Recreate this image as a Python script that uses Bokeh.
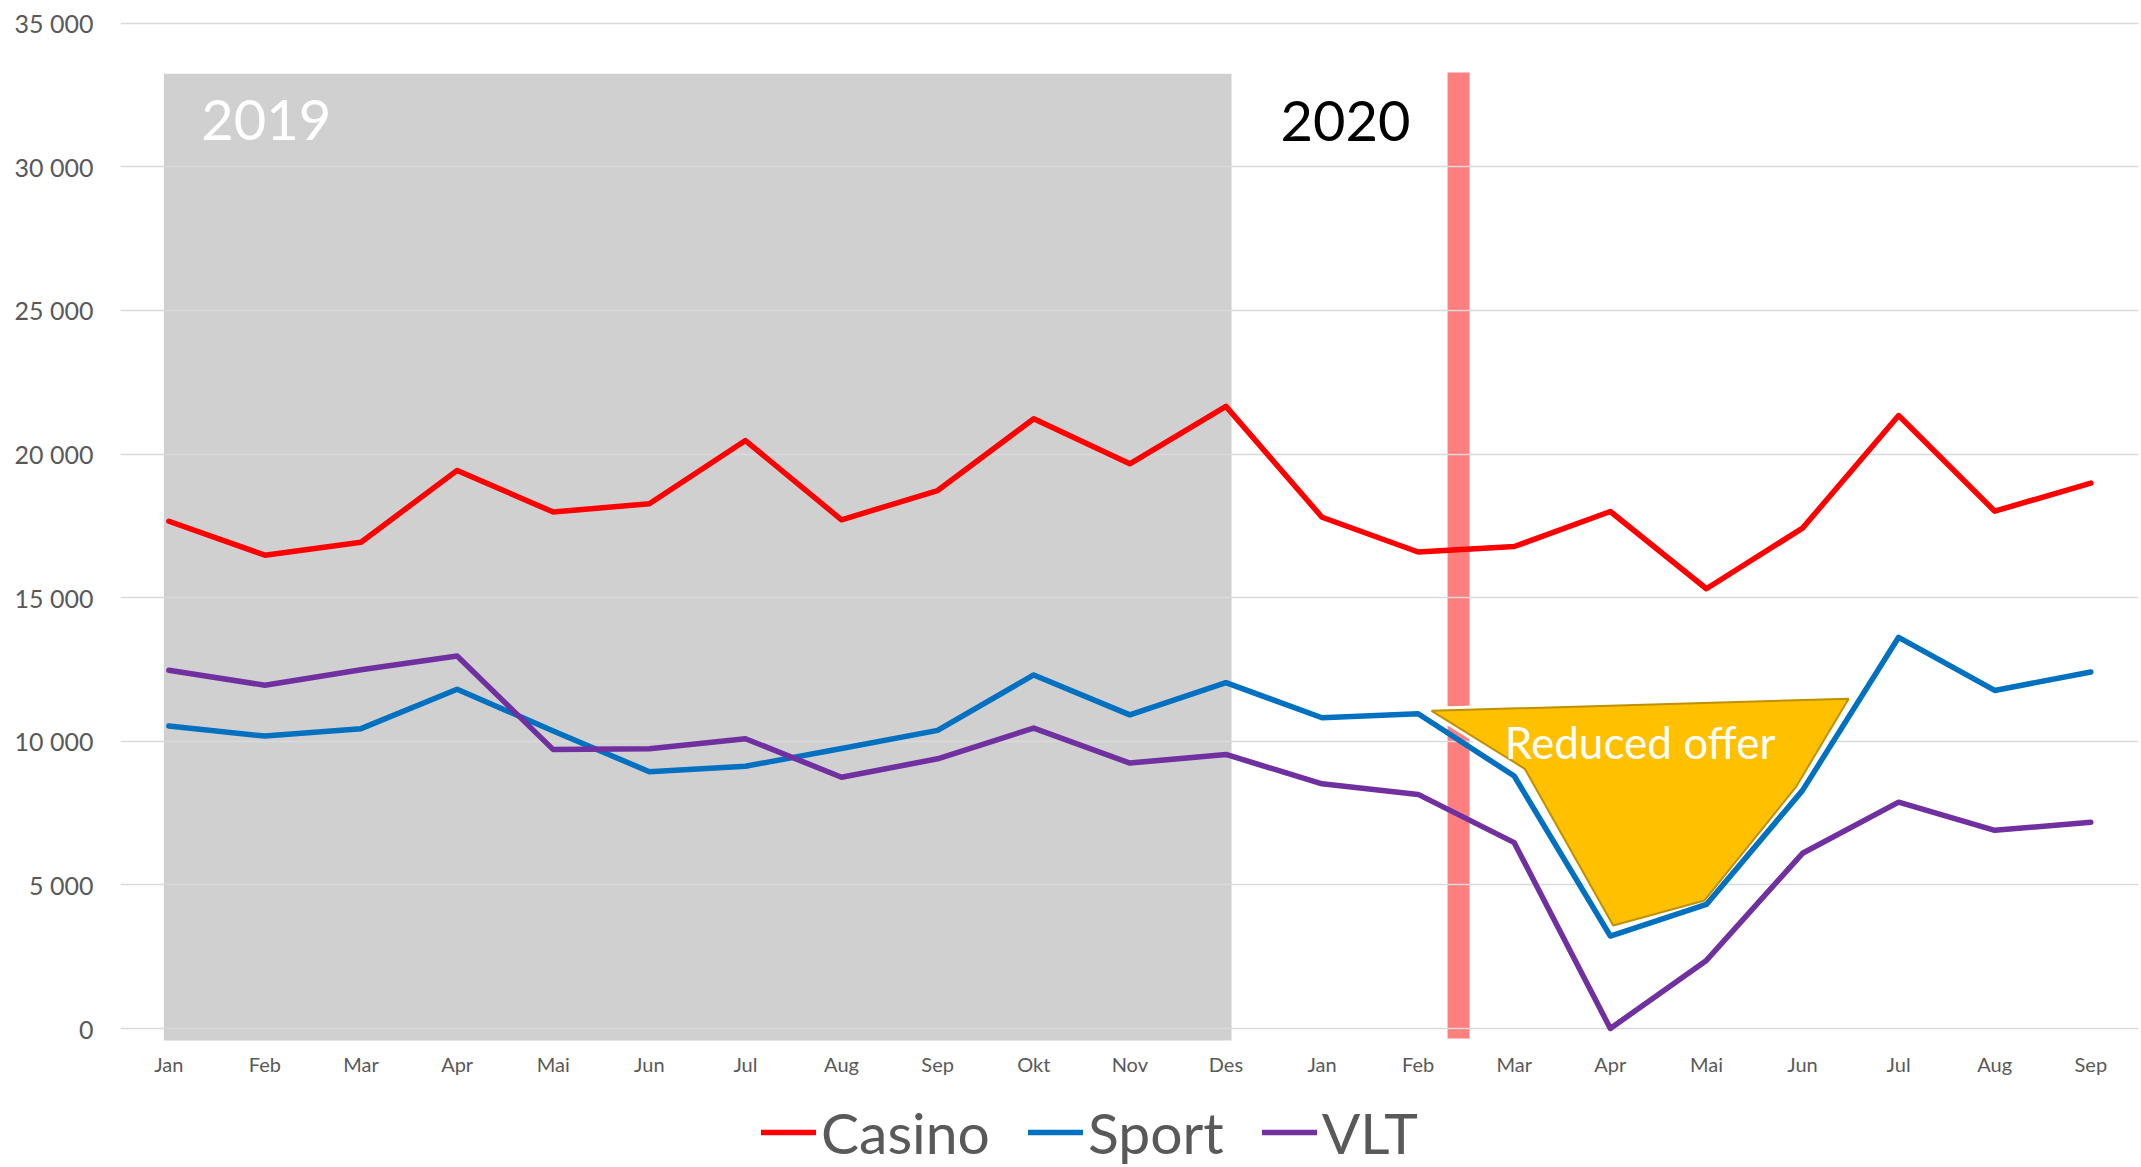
from bokeh.plotting import figure
from bokeh.layouts import column
from bokeh.models import Range1d, FixedTicker, Legend, LegendItem
from bokeh.core.properties import value
from bokeh.embed import file_html
from bokeh.resources import INLINE

# ---------------- data ----------------
months = ["Jan", "Feb", "Mar", "Apr", "Mai", "Jun", "Jul", "Aug", "Sep", "Okt", "Nov", "Des",
          "Jan", "Feb", "Mar", "Apr", "Mai", "Jun", "Jul", "Aug", "Sep"]
casino = [17660, 16480, 16930, 19430, 17980, 18270, 20470, 17710, 18730, 21230, 19660, 21660,
          17800, 16590, 16780, 18000, 15310, 17420, 21340, 18010, 18990]
sport = [10530, 10180, 10440, 11810, 10360, 8940, 9130, 9750, 10380, 12310, 10920, 12040,
         10820, 10960, 8790, 3220, 4320, 8290, 13620, 11770, 12410]
vlt = [12470, 11950, 12490, 12970, 9710, 9740, 10090, 8750, 9390, 10460, 9240, 9540,
       8520, 8150, 6470, 0, 2370, 6100, 7880, 6900, 7180]
y_ticks = [0, 5000, 10000, 15000, 20000, 25000, 30000, 35000]
series_names = ["Casino", "Sport", "VLT"]
series_colors = ["#FF0000", "#0070C0", "#7030A0"]

# annotation shapes (data units)
shade_2019 = dict(left=-0.052, right=11.058, bottom=-420, top=33240)
covid_bar = dict(left=13.306, right=13.535, bottom=-348, top=33287)
reduced_x = [13.14, 17.48, 16.93, 15.98, 15.03, 14.11]
reduced_y = [11060, 11480, 8402, 4457, 3587, 9040]
year_labels = ["2019", "2020"]
year_x = [0.337, 11.568]
year_y = [31615, 31591]
year_colors = ["#FFFFFF", "#000000"]
offer_label = ["Reduced offer"]
offer_x = [15.31]
offer_y = [9990]

FONT = "Lato"
GREY_TXT = "#595959"
LW = 5.5

x = list(range(len(months)))
series = [casino, sport, vlt]

p = figure(width=2141, height=1080,
           x_range=Range1d(-0.503, 20.496), y_range=Range1d(-557, 35338),
           output_backend="svg", toolbar_location=None,
           min_border_left=120, min_border_right=3, min_border_top=13, min_border_bottom=36)
p.outline_line_color = None
p.background_fill_color = "#FFFFFF"
p.border_fill_color = "#FFFFFF"

# background shapes (below grid)
p.quad(level="image", fill_color="#D0D0D0", line_color=None, **{k: [v] for k, v in shade_2019.items()})
p.quad(level="image", fill_color="#FF7F7F", line_color=None, **{k: [v] for k, v in covid_bar.items()})

# white glow of the callout, under the lines
p.patch(reduced_x, reduced_y, fill_alpha=0, line_color="#FFFFFF", line_width=8, line_join="round")

for ys, col in zip(series, series_colors):
    p.line(x, ys, line_color=col, line_width=LW, line_join="round", line_cap="round")

# callout
p.patch(reduced_x, reduced_y, fill_color="#FFC000", line_color="#BF9000", line_width=2)
p.text(offer_x, offer_y, text=offer_label, text_font=value(FONT), text_font_size="44px",
       text_color="#FFFFFF", text_align="center", text_baseline="alphabetic")

# year labels
p.text(year_x, year_y, text=year_labels, text_font=value(FONT), text_font_size="56px",
       text_color=year_colors, text_align="left", text_baseline="alphabetic")

# axes
p.xaxis.ticker = FixedTicker(ticks=x)
p.xaxis.major_label_overrides = {i: m for i, m in enumerate(months)}
p.yaxis.ticker = FixedTicker(ticks=y_ticks)
p.yaxis.major_label_overrides = {t: f"{t:,}".replace(",", " ") for t in y_ticks}
for ax in (p.xaxis, p.yaxis):
    ax.axis_line_color = None
    ax.major_tick_line_color = None
    ax.minor_tick_line_color = None
    ax.major_label_text_color = GREY_TXT
    ax.major_label_text_font = FONT
p.xaxis.major_label_text_font_size = "20px"
p.yaxis.major_label_text_font_size = "25px"
p.xaxis.major_label_standoff = 1
p.yaxis.major_label_standoff = 21

p.xgrid.grid_line_color = None
p.ygrid.ticker = FixedTicker(ticks=y_ticks)
p.ygrid.grid_line_color = "#D9D9D9"
p.ygrid.grid_line_width = 1.5

# ---------------- legend strip ----------------
leg = figure(width=2141, height=87, x_range=Range1d(-200, -199), y_range=Range1d(0, 1),
             output_backend="svg", toolbar_location=None,
             x_axis_location=None, y_axis_location=None, min_border=0)
leg.outline_line_color = None
leg.grid.visible = False
leg.background_fill_color = "#FFFFFF"
leg.border_fill_color = "#FFFFFF"
items = []
for name, ys, col in zip(series_names, series, series_colors):
    r = leg.line(x, ys, line_color=col, line_width=LW, line_cap="round")
    items.append(LegendItem(label=name, renderers=[r]))
legend = Legend(items=items, orientation="horizontal", location=(641, 1),
                padding=0, margin=0, spacing=38, glyph_width=55, glyph_height=40,
                label_standoff=5, label_text_font=FONT, label_text_font_size="57px",
                label_text_color=GREY_TXT, border_line_color=None, background_fill_alpha=0)
leg.add_layout(legend)

open("out.html", "w").write(file_html(column(p, leg, spacing=0), INLINE))
